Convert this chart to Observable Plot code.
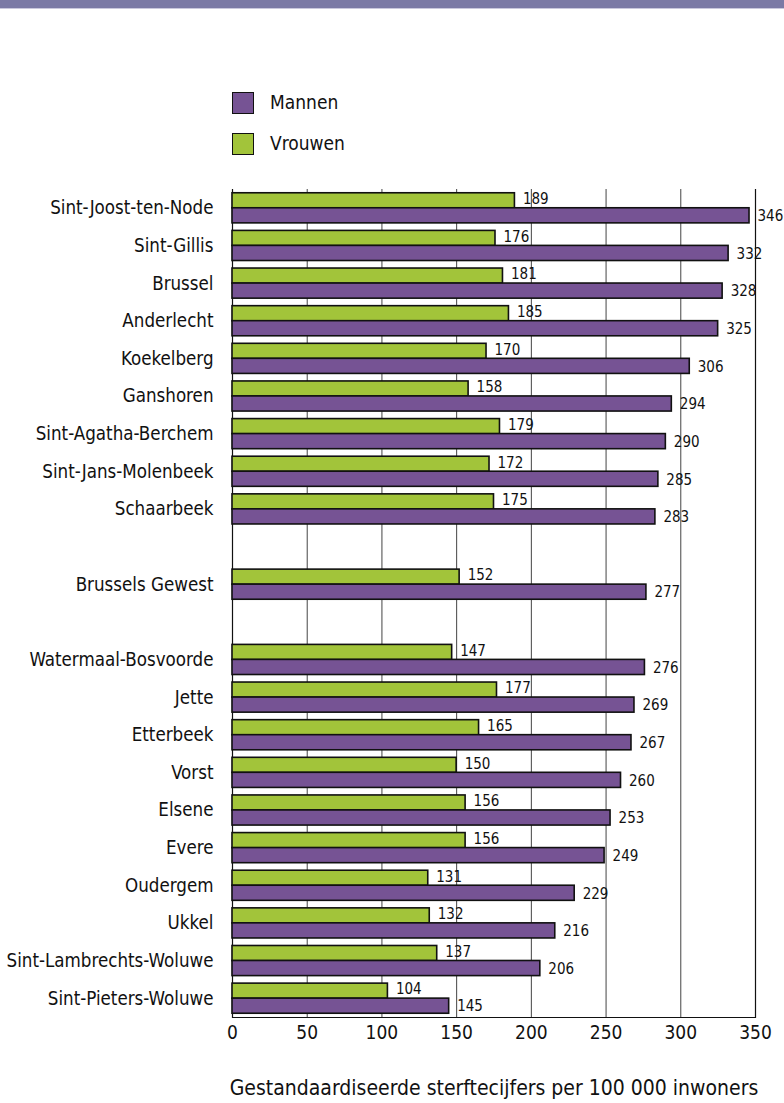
<!DOCTYPE html>
<html>
<head>
<meta charset="utf-8">
<script src="https://cdn.jsdelivr.net/npm/d3@7"></script>
<script src="https://cdn.jsdelivr.net/npm/@observablehq/plot@0.6"></script>
<style>
  html, body { margin: 0; padding: 0; background: #fff; }
  body { width: 784px; height: 1103px; position: relative; overflow: hidden;
         font-family: "DejaVu Sans Condensed", sans-serif; }
  #banner { position: absolute; left: 0; top: 0; width: 784px; height: 8px; background: #7b7aa5;
            border-bottom: 1px solid #c9c8dc; }
  #chart { position: absolute; left: 0; top: 0; }
  .legend { position: absolute; left: 232px; font-size: 19px; color: #111; }
  .legend .row { position: absolute; left: 0; white-space: nowrap; height: 22px; }
  .legend .sw { position: absolute; left: 0; top: 0; width: 20px; height: 20px; border: 1.5px solid #111; }
  .legend .lb { position: absolute; left: 38px; top: -1px; line-height: 22px; }
</style>
</head>
<body>
<div id="banner"></div>
<div id="chart"></div>
<div class="legend">
  <div class="row" style="top:92px"><div class="sw" style="background:#765394"></div><div class="lb">Mannen</div></div>
  <div class="row" style="top:133px"><div class="sw" style="background:#a2c43a"></div><div class="lb">Vrouwen</div></div>
</div>
<script>
// Categories (top to bottom); blank strings are the gaps in the chart
const categories = [
  "Sint-Joost-ten-Node", "Sint-Gillis", "Brussel", "Anderlecht", "Koekelberg",
  "Ganshoren", "Sint-Agatha-Berchem", "Sint-Jans-Molenbeek", "Schaarbeek",
  " ", "Brussels Gewest", "  ",
  "Watermaal-Bosvoorde", "Jette", "Etterbeek", "Vorst", "Elsene", "Evere",
  "Oudergem", "Ukkel", "Sint-Lambrechts-Woluwe", "Sint-Pieters-Woluwe"
];
const communes = [
  "Sint-Joost-ten-Node", "Sint-Gillis", "Brussel", "Anderlecht", "Koekelberg",
  "Ganshoren", "Sint-Agatha-Berchem", "Sint-Jans-Molenbeek", "Schaarbeek",
  "Brussels Gewest",
  "Watermaal-Bosvoorde", "Jette", "Etterbeek", "Vorst", "Elsene", "Evere",
  "Oudergem", "Ukkel", "Sint-Lambrechts-Woluwe", "Sint-Pieters-Woluwe"
];
const mannen  = [346, 332, 328, 325, 306, 294, 290, 285, 283, 277, 276, 269, 267, 260, 253, 249, 229, 216, 206, 145];
const vrouwen = [189, 176, 181, 185, 170, 158, 179, 172, 175, 152, 147, 177, 165, 150, 156, 156, 131, 132, 137, 104];
const xTicks = [0, 50, 100, 150, 200, 250, 300, 350];
const xTitle = "Gestandaardiseerde sterftecijfers per 100 000 inwoners";

const menData = communes.map((c, i) => ({commune: c, value: mannen[i]}));
const womenData = communes.map((c, i) => ({commune: c, value: vrouwen[i]}));

const font = "'DejaVu Sans Condensed', sans-serif";

const chart = Plot.plot({
  width: 784,
  height: 1103,
  marginLeft: 232,
  marginRight: 29,
  marginTop: 189,
  marginBottom: 86,
  style: {fontFamily: font, background: "transparent", color: "#111"},
  x: {domain: [0, 350], ticks: xTicks},
  y: {domain: categories, paddingInner: 0.2, paddingOuter: 0.1, round: false},
  marks: [
    Plot.ruleX(xTicks, {stroke: "#444", strokeWidth: 1}),
    Plot.ruleX([0, 350], {stroke: "#111", strokeWidth: 1.2}),
    Plot.frame({anchor: "bottom", stroke: "#111", strokeWidth: 1.2}),
    Plot.barX(womenData, {x: "value", y: "commune", fill: "#a2c43a", stroke: "#111", strokeWidth: 1.6, insetBottom: 15}),
    Plot.barX(menData, {x: "value", y: "commune", fill: "#765394", stroke: "#111", strokeWidth: 1.6, insetTop: 15}),
    Plot.text(womenData, {x: "value", y: "commune", text: d => String(d.value), dx: 8, dy: -9, textAnchor: "start", fontSize: 15, fill: "#111"}),
    Plot.text(menData, {x: "value", y: "commune", text: d => String(d.value), dx: 8, dy: 8, textAnchor: "start", fontSize: 15, fill: "#111"}),
    Plot.axisY({tickSize: 0, tickPadding: 19, fontSize: 18.6, label: null}),
    Plot.axisX({ticks: xTicks, tickSize: 0, tickPadding: 8, fontSize: 19, label: null}),
    Plot.text([xTitle], {frameAnchor: "bottom", dy: 77, fontSize: 21, fill: "#111"})
  ]
});
document.getElementById("chart").appendChild(chart);
</script>
</body>
</html>
